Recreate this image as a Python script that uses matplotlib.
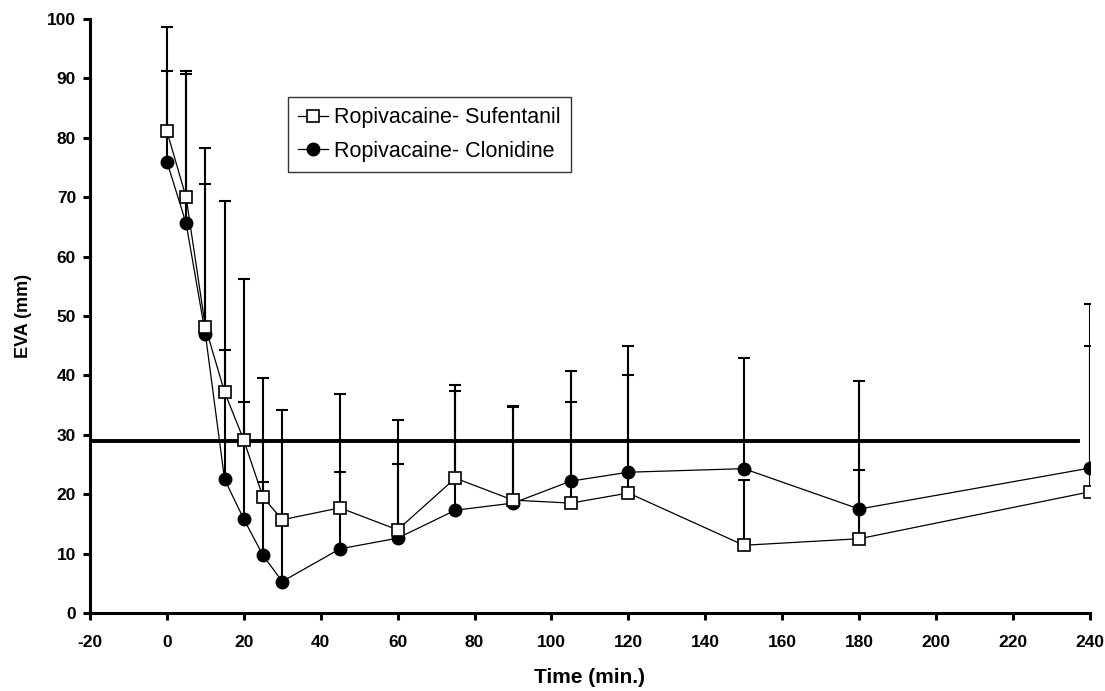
"""
EVA pain scores over time for two epidural mixtures, with upper SD bars
"""

import numpy as np
import matplotlib.pyplot as plt

plt.rcParams["font.family"] = ["Liberation Sans", "DejaVu Sans"]
plt.rcParams["axes.unicode_minus"] = False

time_min = [0, 5, 10, 15, 20, 25, 30, 45, 60, 75, 90, 105, 120, 150, 180, 240]

sufentanil = [81.1, 70.0, 48.2, 37.2, 29.1, 19.5, 15.7, 17.7, 14.0, 22.7,
              19.0, 18.5, 20.2, 11.4, 12.5, 20.4]
sufentanil_top = [91.2, 90.8, 72.3, 44.2, 35.6, 22.0, 15.7, 23.7, 25.1, 37.4,
                  34.7, 35.5, 40.0, 22.4, 24.1, 44.9]

clonidine = [76.0, 65.6, 47.0, 22.5, 15.8, 9.7, 5.3, 10.8, 12.6, 17.3,
             18.5, 22.2, 23.7, 24.3, 17.5, 24.4]
clonidine_top = [98.6, 91.2, 78.2, 69.4, 56.2, 39.5, 34.1, 36.9, 32.5, 38.4,
                 34.9, 40.7, 44.9, 43.0, 39.1, 52.0]

threshold = 29.0
threshold_end = 236.8

xticks = np.arange(-20, 241, 20)
yticks = np.arange(0, 101, 10)


def main():
    fig = plt.figure(figsize=(11.05, 6.91), dpi=100)
    ax = fig.add_axes([0.0814, 0.1129, 0.905, 0.8596])

    t = np.array(time_min)
    s = np.array(sufentanil)
    c = np.array(clonidine)
    s_err = np.array(sufentanil_top) - s
    c_err = np.array(clonidine_top) - c

    # error bars first (upper only), markers drawn on top
    ax.errorbar(t, s, yerr=[np.zeros_like(s), s_err], fmt="none",
                ecolor="black", elinewidth=1.5, capsize=4.5, capthick=1.5, zorder=2)
    ax.errorbar(t, c, yerr=[np.zeros_like(c), c_err], fmt="none",
                ecolor="black", elinewidth=1.5, capsize=4.5, capthick=1.5, zorder=2)

    ax.plot([-20, threshold_end], [threshold, threshold], color="black", lw=2.8, zorder=3)

    ax.plot(t, s, "-s", color="black", lw=0.9, ms=8, mfc="white", mec="black",
            mew=1.2, label="Ropivacaine- Sufentanil", zorder=5)
    ax.plot(t, c, "-o", color="black", lw=0.9, ms=9, mfc="black", mec="black",
            label="Ropivacaine- Clonidine", zorder=4)

    ax.set_xlim(-20, 240)
    ax.set_ylim(0, 100)
    ax.set_xticks(xticks)
    ax.set_yticks(yticks)
    for lab in ax.get_xticklabels() + ax.get_yticklabels():
        lab.set_fontweight("bold")
        lab.set_fontsize(12.5)

    ax.spines["top"].set_visible(False)
    ax.spines["right"].set_visible(False)
    ax.spines["left"].set_linewidth(2.2)
    ax.spines["bottom"].set_linewidth(2.2)
    ax.tick_params(direction="out", length=5, width=2.2)
    ax.tick_params(axis="x", pad=11)
    ax.tick_params(axis="y", pad=5)

    ax.set_xlabel("Time (min.)", fontsize=15, fontweight="bold", labelpad=13)
    ax.set_ylabel("EVA (mm)", fontsize=13, fontweight="bold", labelpad=11)

    leg = ax.legend(loc="upper left", bbox_to_anchor=(0.198, 0.868),
                    fontsize=15.5, frameon=True, fancybox=False,
                    handlelength=1.4, handletextpad=0.3, borderpad=0.45,
                    labelspacing=0.6, borderaxespad=0)
    leg.get_frame().set_edgecolor("black")
    leg.get_frame().set_linewidth(1.0)

    plt.savefig("out.png", dpi=100)


if __name__ == "__main__":
    main()
